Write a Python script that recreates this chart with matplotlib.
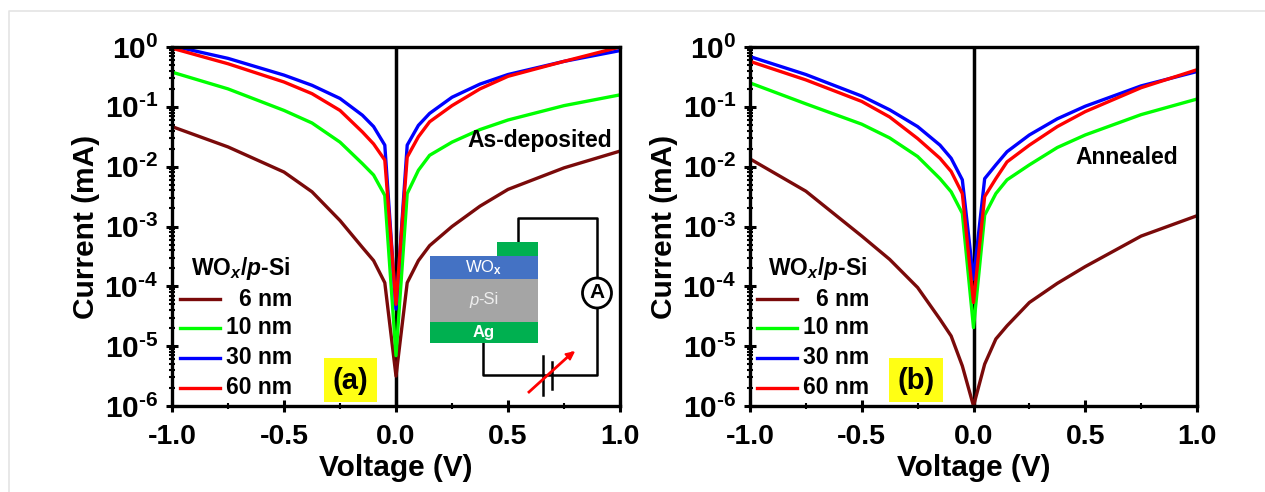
import matplotlib
matplotlib.use("Agg")
import matplotlib.pyplot as plt
from matplotlib.patches import Rectangle, Ellipse
from matplotlib.lines import Line2D
from matplotlib.ticker import LogLocator, NullFormatter
import numpy as np

W, H = 1265, 492
plt.rcParams['font.family'] = ['Liberation Sans', 'DejaVu Sans']
plt.rcParams['mathtext.fontset'] = 'custom'
plt.rcParams['mathtext.rm'] = 'Liberation Sans:bold'
plt.rcParams['mathtext.bf'] = 'Liberation Sans:bold'
plt.rcParams['mathtext.it'] = 'Liberation Sans:bold:italic'

voltage = [-1, -0.75, -0.5, -0.375, -0.25, -0.15, -0.1, -0.05, 0, 0.05, 0.1, 0.15, 0.25, 0.375, 0.5, 0.75, 1]
# log10(current / mA)
a_6 = [-1.33, -1.67, -2.09, -2.42, -2.90, -3.35, -3.57, -3.94, -5.50, -3.94, -3.57, -3.32, -3.00, -2.66, -2.38, -2.02, -1.74]
a_10 = [-0.42, -0.70, -1.06, -1.27, -1.59, -1.95, -2.14, -2.48, -5.16, -2.45, -2.06, -1.81, -1.59, -1.38, -1.22, -0.98, -0.80]
a_30 = [0.02, -0.19, -0.47, -0.64, -0.86, -1.14, -1.33, -1.64, -4.38, -1.64, -1.31, -1.11, -0.84, -0.62, -0.46, -0.24, -0.06]
a_60 = [-0.02, -0.28, -0.585, -0.78, -1.06, -1.42, -1.62, -1.89, -4.30, -1.84, -1.50, -1.25, -0.98, -0.70, -0.49, -0.24, 0.00]
b_6 = [-1.87, -2.41, -3.16, -3.55, -4.02, -4.55, -4.83, -5.33, -6.00, -5.30, -4.88, -4.66, -4.27, -3.95, -3.67, -3.16, -2.82]
b_10 = [-0.60, -0.95, -1.29, -1.52, -1.83, -2.20, -2.42, -2.78, -4.69, -2.81, -2.45, -2.22, -1.97, -1.68, -1.47, -1.13, -0.87]
b_30 = [-0.16, -0.46, -0.82, -1.05, -1.33, -1.64, -1.86, -2.22, -3.88, -2.20, -1.97, -1.75, -1.47, -1.20, -0.99, -0.65, -0.41]
b_60 = [-0.24, -0.55, -0.91, -1.17, -1.53, -1.86, -2.08, -2.45, -4.27, -2.50, -2.20, -1.92, -1.64, -1.33, -1.08, -0.68, -0.38]
labels = ['6 nm', '10 nm', '30 nm', '60 nm']
colors = ['#7a0a0a', '#00ff00', '#0000ff', '#ff0000']
xticks = [-1.0, -0.5, 0.0, 0.5, 1.0]
xticklabels = ['-1.0', '-0.5', '0.0', '0.5', '1.0']
yticks = [1e-6, 1e-5, 1e-4, 1e-3, 1e-2, 1e-1, 1e0]
yticklabels = [r'$\mathbf{10^{\text{-6}}}$', r'$\mathbf{10^{\text{-5}}}$', r'$\mathbf{10^{\text{-4}}}$',
               r'$\mathbf{10^{\text{-3}}}$', r'$\mathbf{10^{\text{-2}}}$', r'$\mathbf{10^{\text{-1}}}$',
               r'$\mathbf{10^{0}}$']

fig = plt.figure(figsize=(W/100, H/100), dpi=100, facecolor='white')

def axbox(l, t, r, b):
    return [l/W, 1-b/H, (r-l)/W, (b-t)/H]

def px(x, y):
    return x/W, 1-y/H

# page frame
fig.add_artist(Line2D([9/W, 9/W, 1], [0, 1-11/H, 1-11/H], color='#e4e4e4', lw=1.2))

def panel(box, series, tag, tagbox, legend_x, legend_title_x, note, note_xy):
    ax = fig.add_axes(axbox(*box))
    ax.set_yscale('log')
    ax.set_xlim(-1, 1)
    ax.set_ylim(1e-6, 1)
    ax.axvline(0, color='black', lw=2.5, zorder=1)
    for s, c, lab in zip(series, colors, labels):
        ax.plot(voltage, 10.0**np.array(s), color=c, lw=2.4, zorder=2, label=lab, solid_joinstyle='round')
    for sp in ax.spines.values():
        sp.set_linewidth(2.4)
    ax.set_xticks(xticks)
    ax.set_xticklabels(xticklabels, fontsize=20.5, fontweight='bold')
    ax.set_yticks(yticks)
    ax.set_yticklabels(yticklabels, fontsize=21.5)
    ax.set_xticks([-0.75, -0.25, 0.25, 0.75], minor=True)
    ax.yaxis.set_minor_locator(LogLocator(base=10, subs=range(2, 10), numticks=20))
    ax.yaxis.set_minor_formatter(NullFormatter())
    ax.tick_params(which='major', direction='inout', length=8, width=2.2)
    ax.tick_params(which='minor', direction='inout', length=4, width=1.5)
    ax.tick_params(axis='x', which='major', pad=9)
    ax.tick_params(axis='y', which='major', pad=6)
    ax.set_xlabel('Voltage (V)', fontsize=21.5, fontweight='bold', labelpad=3)
    ax.set_ylabel('Current (mA)', fontsize=21.5, fontweight='bold', labelpad=3)
    ys = [299, 328, 358, 388]
    for y, c, lab in zip(ys, colors, labels):
        fx, fy = px(legend_x, y)
        fig.add_artist(Line2D([fx, fx+40/W], [fy, fy], color=c, lw=2.4))
        fig.text((legend_x+112)/W, fy, lab, fontsize=16.5, fontweight='bold', ha='right', va='center')
    fx, fy = px(legend_title_x, 268)
    fig.text(fx, fy, r'WO$_{\mathit{x}}$/$\mathit{p}$-Si', fontsize=16.5, fontweight='bold', ha='left', va='center')
    fx, fy = px(*note_xy)
    fig.text(fx, fy, note, fontsize=16.5, fontweight='bold', ha='left', va='center')
    l, t, r, b = tagbox
    fig.add_artist(Rectangle(px(l, b), (r-l)/W, (b-t)/H, transform=fig.transFigure, facecolor='#ffff14', edgecolor='none', zorder=3))
    fig.text(*px((l+r)/2, (t+b)/2+1), tag, fontsize=21, fontweight='bold', ha='center', va='center', zorder=4)
    return ax

panel((172, 47, 620, 406), [a_6, a_10, a_30, a_60], '(a)', (324, 358, 377, 402), 180, 191, 'As-deposited', (467, 141))
panel((750, 47, 1197, 406), [b_6, b_10, b_30, b_60], '(b)', (889, 358, 943, 402), 757, 768, 'Annealed', (1075, 158))

# device schematic inset
def rect(l, t, r, b, c):
    fig.add_artist(Rectangle(px(l, b), (r-l)/W, (b-t)/H, transform=fig.transFigure, facecolor=c, edgecolor='none', zorder=5))
def wire(xs, ys, c='black', lw=1.8):
    fig.add_artist(Line2D([x/W for x in xs], [1-y/H for y in ys], color=c, lw=lw, zorder=4))

rect(430, 256, 538, 279, '#4472c4')
rect(430, 279, 538, 322, '#a5a5a5')
rect(430, 322, 538, 343, '#00b050')
rect(497, 242, 538, 256, '#00b050')
wire([518, 518, 597, 597], [242, 218, 218, 278])
wire([597, 597, 483, 483], [307, 375, 375, 343])
for x, t, b in [(543, 356, 395), (552, 362, 389)]:
    wire([x, x], [t, b])
wire([529, 572], [392, 353], c='#ff0000', lw=2.0)
fig.add_artist(plt.Polygon([px(574, 352), px(565, 354), px(570, 360)], closed=True, transform=fig.transFigure, color='#ff0000', zorder=6))
fig.add_artist(Ellipse(px(597, 293), 29/W, 30/H, transform=fig.transFigure, facecolor='white', edgecolor='black', lw=2, zorder=5))
fig.text(*px(597, 293), 'A', fontsize=15, fontweight='bold', ha='center', va='center', zorder=6)
fig.text(*px(484, 268), r'WO$_{\mathrm{x}}$', fontsize=12, color='white', ha='center', va='center', zorder=6)
fig.text(*px(469, 301), 'p', fontsize=12, style='italic', color='#eeeeee', ha='left', va='center', zorder=6)
fig.text(*px(478, 300), '-Si', fontsize=12, color='#eeeeee', ha='left', va='center', zorder=6)
fig.text(*px(484, 333), 'Ag', fontsize=12, fontweight='bold', color='white', ha='center', va='center', zorder=6)

fig.savefig('out.png', dpi=100)
